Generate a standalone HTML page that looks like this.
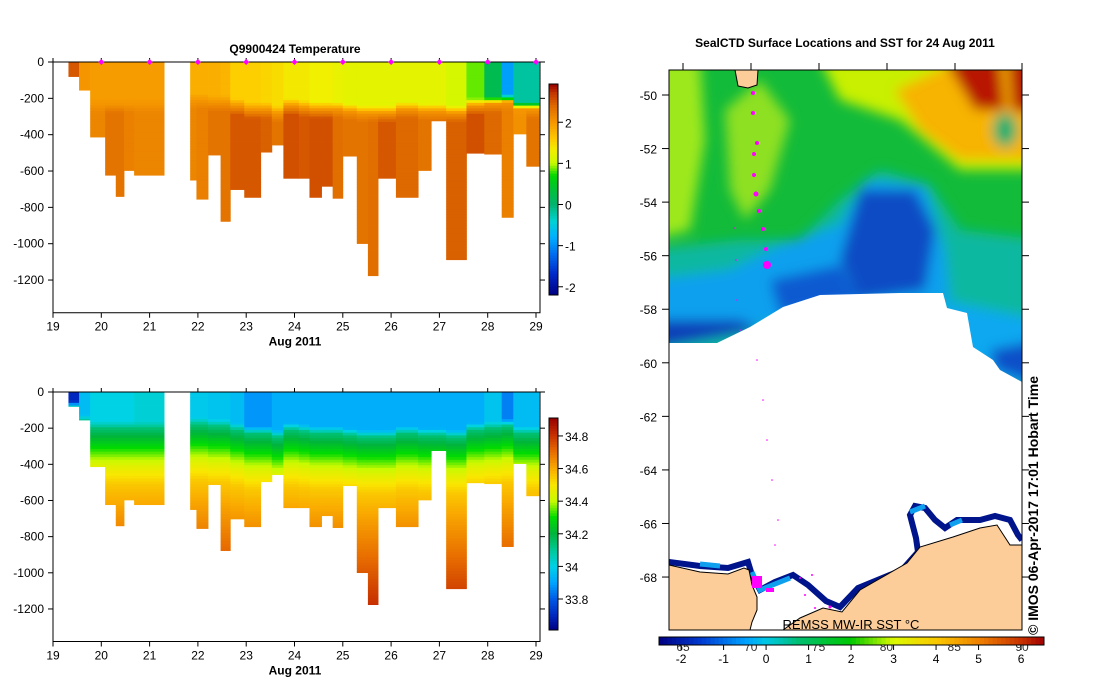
<!DOCTYPE html>
<html><head><meta charset="utf-8">
<style>
html,body{margin:0;padding:0;background:#fff;}
svg{display:block;font-family:"Liberation Sans",sans-serif;}
</style></head>
<body>
<svg id="root" width="1099" height="700" viewBox="0 0 1099 700" xmlns="http://www.w3.org/2000/svg">
<defs>
<filter id="blur" x="-20%" y="-20%" width="140%" height="140%"><feGaussianBlur stdDeviation="6"/></filter>
<clipPath id="mapclip"><rect x="669" y="70" width="353" height="560"/></clipPath>
</defs>

<g id="tempChart"></g>
<g id="salChart"></g>

<g>
<text x="845" y="47" text-anchor="middle" font-size="12" font-weight="bold">SealCTD Surface Locations and SST for 24 Aug 2011</text>
<g clip-path="url(#mapclip)">
<rect x="669" y="70" width="353" height="560" fill="#12bb3a"/>
<g filter="url(#blur)">
<path d="M650,60 L700,60 L705,140 L690,230 L650,240 Z" fill="#9de81a"/>
<path d="M725,110 L760,80 L790,120 L770,190 L745,220 L730,190 Z" fill="#8ee020"/>
<path d="M820,60 L1040,60 L1040,170 L960,170 L900,120 L840,100 Z" fill="#c8f000"/>
<path d="M895,90 L960,60 L1040,60 L1040,160 L960,160 L920,130 Z" fill="#f7b400"/>
<path d="M945,60 L1000,60 L1005,110 L975,110 Z" fill="#b81400"/>
<path d="M1008,60 L1040,60 L1040,115 L1012,110 Z" fill="#b81400"/>
<ellipse cx="1005" cy="130" rx="12" ry="17" fill="#10b070"/>
<path d="M650,250 L740,240 L800,240 L840,200 L880,170 L930,185 L960,230 L1040,240 L1040,380 L650,380 Z" fill="#0cb8a0"/>
<path d="M650,280 L730,270 L780,245 L840,225 L865,180 L925,185 L945,250 L950,300 L650,340 Z" fill="#0ea0ee"/>
<path d="M860,190 L915,190 L935,230 L925,290 L860,300 L840,260 Z" fill="#0a4cc4"/>
<path d="M770,280 L840,265 L860,300 L780,315 Z" fill="#0a5ad0"/>
<path d="M940,300 L1040,320 L1040,390 L960,380 Z" fill="#0ea8f0"/>
<path d="M990,350 L1040,340 L1040,385 L995,370 Z" fill="#0a50c8"/>
<path d="M650,320 L740,320 L760,330 L650,350 Z" fill="#0a40b8"/>
</g>
<path d="M669,343 L717,343 L750,327 L783,307 L820,295 L900,293 L943,293 L947,308 L967,313 L973,347 L993,360 L1000,370 L1022,382 L1022,630 L669,630 Z" fill="#ffffff"/>
<path d="M669,562 L700,566 L728,568 L748,562 L752,575 L760,590 L775,582 L793,575 L808,585 L826,601 L840,607 L858,588 L902,570 L918,552 L916,538 L910,515 L915,506 L925,508 L935,520 L945,528 L957,520 L980,520 L995,516 L1010,520 L1018,535 L1022,540" fill="none" stroke="#00148c" stroke-width="6"/>
<path d="M700,564 L720,566 M752,572 L760,590 L790,578 M910,512 L925,506 M950,525 L962,520" fill="none" stroke="#0ea0ee" stroke-width="5"/>
<path d="M669,565 L700,572 L728,574 L744,568 L749,570 L752,585 L757,597 L757,610 L752,622 L750,630 L669,630 Z" fill="#fccc99" stroke="#000" stroke-width="1"/>
<path d="M783,630 L800,618 L823,608 L842,612 L860,590 L907,563 L920,547 L953,537 L980,528 L997,525 L1010,545 L1022,545 L1022,630 Z" fill="#fccc99" stroke="#000" stroke-width="1"/>
<path d="M735,70 L758,70 L757,85 L748,88 L738,86 Z" fill="#fccc99" stroke="#000" stroke-width="1"/>
<g fill="#ff00ff">
<circle cx="753" cy="93" r="2"/><circle cx="753" cy="113" r="2"/><circle cx="757" cy="143" r="2"/><circle cx="754" cy="154" r="2"/><circle cx="754" cy="175" r="2"/><circle cx="756" cy="194" r="2.5"/><circle cx="759" cy="211" r="2"/><circle cx="763" cy="229" r="2"/><circle cx="766" cy="249" r="2"/><circle cx="767" cy="265" r="4"/>
<circle cx="734" cy="228" r="0.8"/><circle cx="736" cy="260" r="0.8"/><circle cx="737" cy="300" r="0.8"/><circle cx="740" cy="330" r="0.8"/><circle cx="757" cy="360" r="0.8"/><circle cx="763" cy="400" r="0.8"/><circle cx="767" cy="440" r="0.8"/><circle cx="772" cy="480" r="0.8"/><circle cx="778" cy="520" r="0.8"/><circle cx="775" cy="545" r="0.8"/>
<rect x="752" y="576" width="10" height="12"/><rect x="766" y="588" width="8" height="4"/><circle cx="800" cy="578" r="1"/><circle cx="812" cy="575" r="1"/><circle cx="805" cy="595" r="1"/><circle cx="815" cy="608" r="1"/><circle cx="830" cy="607" r="1.5"/>
</g>
</g>
<rect x="669" y="70" width="353" height="560" fill="none" stroke="#000" stroke-width="1"/>
<text x="851" y="629" text-anchor="middle" font-size="13">REMSS MW-IR SST °C</text>
<text transform="translate(1038,635) rotate(-90)" font-size="14" font-weight="bold">© IMOS 06-Apr-2017 17:01 Hobart Time</text>
<g id="mapAxes"></g>
<g id="mapCbar"></g>
</g>
</svg>

<script>
// ---- section data ----
const profStart = [19.32,19.54,19.77,20.08,20.30,20.47,20.68,21.84,21.97,22.21,22.47,22.67,22.96,23.30,23.53,23.77,24.09,24.31,24.56,24.79,25.0,25.29,25.52,25.73,26.10,26.56,26.83,27.14,27.56,27.93,28.29,28.53,28.80];
const profEnd = [19.54,19.77,20.08,20.30,20.47,20.68,21.30,21.97,22.21,22.47,22.67,22.96,23.30,23.53,23.77,24.09,24.31,24.56,24.79,25.0,25.29,25.52,25.73,26.10,26.56,26.83,27.14,27.56,27.93,28.29,28.53,28.80,29.06];
const maxDepth = [80,155,413,623,740,597,623,650,755,512,877,702,745,496,457,640,640,745,684,750,518,999,1176,640,745,597,324,1088,502,507,855,396,574];
const surfTemp = [2.5,2.0,1.95,1.95,1.95,1.95,1.95,1.8,1.8,1.8,1.75,1.55,1.55,1.5,1.45,1.35,1.35,1.3,1.3,1.25,1.2,1.2,1.2,1.2,1.2,1.2,1.2,1.1,0.85,0.2,-0.9,-0.2,-0.2];
const deepTemp = [2.5,2.0,2.15,2.3,2.3,2.2,2.15,2.15,2.2,2.3,2.3,2.5,2.5,2.45,2.3,2.55,2.5,2.55,2.55,2.35,2.3,2.3,2.35,2.5,2.4,2.3,2.3,2.45,2.55,2.4,2.2,2.05,2.3];
const mixedDepth = [80,155,190,190,190,190,190,170,170,180,180,200,220,220,240,200,210,220,220,220,230,240,240,240,220,230,230,240,200,190,180,220,220];
const surfSal = [33.7,33.95,34.0,34.0,34.0,34.0,34.02,33.98,33.98,33.97,33.97,33.95,33.88,33.88,33.92,33.92,33.92,33.92,33.92,33.92,33.92,33.92,33.92,33.92,33.92,33.92,33.92,33.92,33.92,33.97,33.85,33.95,33.95];
const salDepths = [0,150,250,350,450,600,800,1000,1200];
const salValues = [34.0,34.15,34.3,34.45,34.55,34.62,34.7,34.78,34.85];
const dayTicks = [19,20,21,22,23,24,25,26,27,28,29];
const depthTicks = [0,-200,-400,-600,-800,-1000,-1200];
const tempCbarTicks = [2,1,0,-1,-2];
const salCbarTicks = [34.8,34.6,34.4,34.2,34,33.8];
const sstTicks = [-2,-1,0,1,2,3,4,5,6];
const sstFadeTicks = [65,70,75,80,85,90];
const mapLatTicks = [-50,-52,-54,-56,-58,-60,-62,-64,-66,-68];

const NS="http://www.w3.org/2000/svg";
function mk(tag,attrs,parent){const e=document.createElementNS(NS,tag);for(const k in attrs)e.setAttribute(k,attrs[k]);if(parent)parent.appendChild(e);return e;}
function lerp(a,b,t){return a+(b-a)*t;}
function cmap(stops,v){
  if(v<=stops[0][0])return stops[0][1];
  for(let i=1;i<stops.length;i++){if(v<=stops[i][0]){const t=(v-stops[i-1][0])/(stops[i][0]-stops[i-1][0]);const a=stops[i-1][1],b=stops[i][1];return [lerp(a[0],b[0],t),lerp(a[1],b[1],t),lerp(a[2],b[2],t)];}}
  return stops[stops.length-1][1];
}
function rgb(c){return "rgb("+Math.round(c[0])+","+Math.round(c[1])+","+Math.round(c[2])+")";}
const tStops=[[-2.2,[0,0,130]],[-1.7,[0,40,200]],[-1.2,[0,110,240]],[-0.8,[0,175,255]],[-0.4,[0,210,210]],[0,[0,180,110]],[0.4,[0,195,50]],[0.7,[0,215,0]],[1.0,[200,250,0]],[1.3,[240,240,0]],[1.6,[255,200,0]],[2.0,[245,150,0]],[2.4,[222,105,0]],[2.7,[195,55,0]],[2.93,[150,0,0]]];
const sStops=[[33.61,[0,0,130]],[33.7,[0,40,190]],[33.8,[0,90,230]],[33.9,[0,165,255]],[34.0,[0,210,230]],[34.1,[0,200,150]],[34.2,[0,180,60]],[34.3,[0,220,0]],[34.4,[200,250,0]],[34.5,[250,230,0]],[34.6,[250,170,0]],[34.7,[232,110,0]],[34.8,[200,50,0]],[34.91,[150,0,0]]];
const mStops=[[-2.52,[0,0,130]],[-1.5,[0,60,210]],[-0.5,[0,160,255]],[0,[0,200,230]],[0.8,[0,190,110]],[2,[0,200,0]],[3,[220,250,0]],[4,[250,200,0]],[5,[240,130,0]],[6,[200,50,0]],[6.54,[160,0,0]]];
function interp(xs,ys,x){if(x<=xs[0])return ys[0];for(let i=1;i<xs.length;i++){if(x<=xs[i]){const t=(x-xs[i-1])/(xs[i]-xs[i-1]);return lerp(ys[i-1],ys[i],t);}}return ys[ys.length-1];}

const X0=53,X1=536,PX1=540;
function xDay(d){return X0+(d-19)*(X1-X0)/10;}

function section(g,top,scale,valueAt,stops,cbar,cbarTicks,title){
  const yD=z=>top+z*scale;
  const bottom=top+1380*scale;
  if(title){const t=mk('text',{x:295,y:top-9,'text-anchor':'middle','font-size':12,'font-weight':'bold','xml:space':'preserve'},g);t.textContent=title;
    
    }
  for(let i=0;i<profStart.length;i++){
    const cg=mk('g',{},g);
    
    
    const x0=xDay(profStart[i]),x1=xDay(profEnd[i]);
    for(let z=0;z<maxDepth[i];z+=15){
      const z2=Math.min(z+15,maxDepth[i]);
      mk('rect',{x:x0.toFixed(2),y:yD(z).toFixed(2),width:(x1-x0+0.4).toFixed(2),height:(yD(z2)-yD(z)+0.4).toFixed(2),fill:rgb(cmap(stops,valueAt(i,z+7)))},cg);
    }
  }
  mk('rect',{x:X0,y:top,width:PX1-X0,height:bottom-top,fill:'none',stroke:'#000','stroke-width':1},g);
  depthTicks.forEach(d=>{const y=yD(-d);
    mk('line',{x1:X0-5,x2:X0,y1:y,y2:y,stroke:'#000'},g);
    mk('line',{x1:PX1,x2:PX1+5,y1:y,y2:y,stroke:'#000'},g);
    const t=mk('text',{x:X0-9,y:y+4,'text-anchor':'end','font-size':12},g);t.textContent=d;
    
    });
  dayTicks.forEach(d=>{const x=xDay(d);
    mk('line',{x1:x,x2:x,y1:bottom,y2:bottom+5,stroke:'#000'},g);
    mk('line',{x1:x,x2:x,y1:top-4,y2:top,stroke:'#000'},g);
    const t=mk('text',{x:x,y:bottom+18,'text-anchor':'middle','font-size':12},g);t.textContent=d;
    
    
    if(title&&d>19){mk('path',{d:"M"+x+","+(top-3)+" l3,3 l-3,3 l-3,-3 Z",fill:'#ff00ff'},g);}});
  const xl=mk('text',{x:295,y:bottom+33,'text-anchor':'middle','font-size':12,'font-weight':'bold'},g);xl.textContent='Aug 2011';
  
  
  const cb=mk('g',{},g);
  
  
  const n=80;for(let k=0;k<n;k++){const v=cbar.vmax-(cbar.vmax-cbar.vmin)*(k+0.5)/n;const y=cbar.y0+(cbar.y1-cbar.y0)*k/n;
    mk('rect',{x:549,y:y.toFixed(2),width:9,height:((cbar.y1-cbar.y0)/n+0.5).toFixed(2),fill:rgb(cmap(stops,v))},cb);}
  mk('rect',{x:549,y:cbar.y0,width:9,height:cbar.y1-cbar.y0,fill:'none',stroke:'#000'},cb);
  cbarTicks.forEach(v=>{const y=cbar.y0+(cbar.vmax-v)/(cbar.vmax-cbar.vmin)*(cbar.y1-cbar.y0);
    mk('line',{x1:558,x2:563,y1:y,y2:y,stroke:'#000'},cb);
    const t=mk('text',{x:565,y:y+5,'font-size':12},cb);t.textContent=v;
    
    });
}
function tempAt(i,z){const m=mixedDepth[i];if(z<m)return surfTemp[i];if(z<m+40){const t=(z-m)/40;return lerp(surfTemp[i],Math.max(surfTemp[i],2.0),t);} if(z<m+90){return lerp(2.0,deepTemp[i],(z-m-40)/50);}return deepTemp[i];}
function salAt(i,z){const m=mixedDepth[i]-30;if(z<m)return surfSal[i];const zz=z-m+100;const s=interp(salDepths,salValues,zz);if(z<m+40)return lerp(surfSal[i],s,(z-m)/40);return s;}
section(document.getElementById('tempChart'),62,0.1817,tempAt,tStops,{y0:84,y1:295,vmax:2.93,vmin:-2.2},tempCbarTicks,'Q9900424  Temperature');
section(document.getElementById('salChart'),392,0.1808,salAt,sStops,{y0:418,y1:630,vmax:34.91,vmin:33.61},salCbarTicks,null);

const ma=document.getElementById('mapAxes');
mapLatTicks.forEach(l=>{const y=95+(-50-l)*26.78;
  mk('line',{x1:662,x2:669,y1:y,y2:y,stroke:'#000'},ma);
  mk('line',{x1:1022,x2:1029,y1:y,y2:y,stroke:'#000'},ma);
  const t=mk('text',{x:657,y:y+5,'text-anchor':'end','font-size':12},ma);t.textContent=l;
  
  });
[683,751,819,887,955,1022].forEach(x=>mk('line',{x1:x,x2:x,y1:63,y2:70,stroke:'#000'},ma));
const mc=document.getElementById('mapCbar');
sstFadeTicks.forEach((v,k)=>{const x=683+k*67.8;const t=mk('text',{x:x,y:651,'text-anchor':'middle','font-size':12,fill:'#333'},mc);t.textContent=v;
  
  });
const mcx0=659,mcx1=1044,vmin=-2.52,vmax=6.54,nb=90;
for(let k=0;k<nb;k++){const v=vmin+(vmax-vmin)*(k+0.5)/nb;const x=mcx0+(mcx1-mcx0)*k/nb;
  mk('rect',{x:x.toFixed(2),y:637,width:((mcx1-mcx0)/nb+0.5).toFixed(2),height:8,fill:rgb(cmap(mStops,v))},mc);}
mk('rect',{x:mcx0,y:637,width:mcx1-mcx0,height:8,fill:'none',stroke:'#000'},mc);
sstTicks.forEach(v=>{const x=mcx0+(v-vmin)/(vmax-vmin)*(mcx1-mcx0);
  mk('line',{x1:x,x2:x,y1:645,y2:650,stroke:'#000'},mc);
  const t=mk('text',{x:x,y:663,'text-anchor':'middle','font-size':12},mc);t.textContent=v;
  
  });
</script>
</body></html>
